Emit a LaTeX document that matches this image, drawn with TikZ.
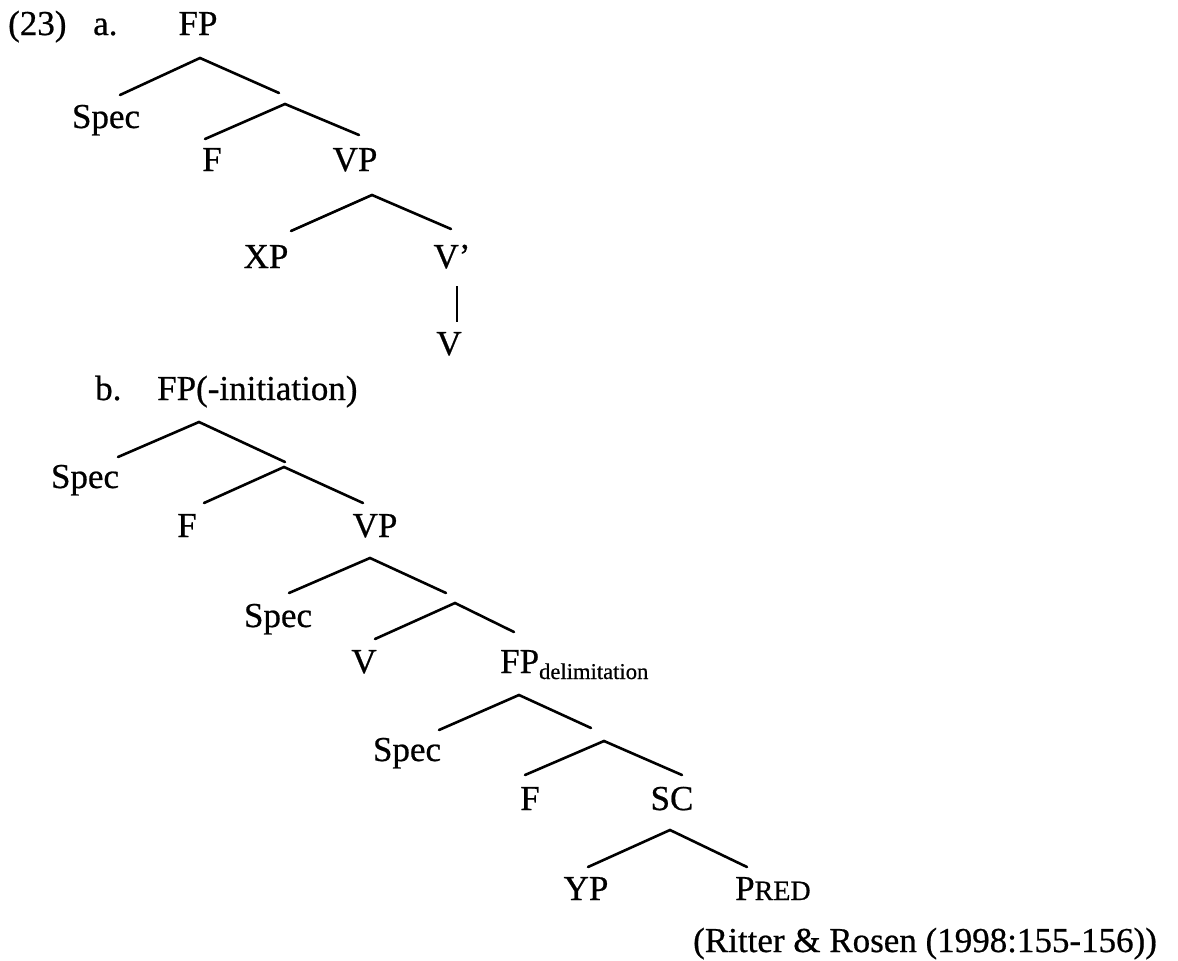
\documentclass[tikz,border=0pt]{standalone}
\usepackage{fontspec}
\setmainfont[FakeBold=0.6]{Liberation Serif}
\begin{document}
\begin{tikzpicture}[x=1pt,y=-1pt,
  lbl/.style={font=\fontsize{35}{42}\selectfont, inner sep=0pt, anchor=base},
  lblw/.style={lbl, anchor=base west},
  branch/.style={line width=2.6pt, line cap=round, line join=miter}]
\useasboundingbox[fill=white] (0,0) rectangle (1178,961);

% ---------- (23a) ----------
\node[lblw] (num)   at (8,35)    {(23)};
\node[lblw] (la)    at (93,35)   {a.};
\node[lbl]  (FPa)   at (198,35)  {FP};
\node[lbl]  (SpecA) at (106,128) {Spec};
\node[lbl]  (Fa)    at (212,171) {F};
\node[lbl]  (VPa)   at (355,171) {VP};
\node[lbl]  (XPa)   at (266,268) {XP};
\node[lbl]  (Vbar)  at (452,268) {V’};
\node[lbl]  (Va)    at (449,355) {V};

% branch points of (23a)
\coordinate (a1) at (200,58);  \coordinate (a1l) at (120,95);  \coordinate (a1r) at (279,93);
\coordinate (a2) at (285,104); \coordinate (a2l) at (205,139); \coordinate (a2r) at (359,135);
\coordinate (a3) at (372,195); \coordinate (a3l) at (291,231); \coordinate (a3r) at (451,229);
\coordinate (a4t) at (457,286); \coordinate (a4b) at (457,322);

\draw[branch] (a1l) -- (a1) -- (a1r);
\draw[branch] (a2l) -- (a2) -- (a2r);
\draw[branch] (a3l) -- (a3) -- (a3r);
\draw[branch, line cap=butt] (a4t) -- (a4b);

% ---------- (23b) ----------
\node[lblw] (lb)     at (95,400)  {b.};
\node[lblw] (FPb)    at (157,400) {FP(-initiation)};
\node[lbl]  (SpecB1) at (85,488)  {Spec};
\node[lbl]  (Fb1)    at (187,537) {F};
\node[lbl]  (VPb)    at (375,537) {VP};
\node[lbl]  (SpecB2) at (278,627) {Spec};
\node[lbl]  (Vb)     at (364,673) {V};
\node[lblw] (FPd)    at (500,673) {FP\raisebox{-6pt}{\fontsize{22.6}{26}\selectfont delimitation}};
\node[lbl]  (SpecB3) at (407,761) {Spec};
\node[lbl]  (Fb2)    at (530,810) {F};
\node[lbl]  (SC)     at (672,810) {SC};
\node[lbl]  (YP)     at (586,900) {YP};
\node[lblw] (Pred)   at (735,900) {P{\fontsize{28}{32}\selectfont RED}};
\node[lblw] (cite)   at (693,952) {(Ritter \& Rosen (1998:155-156))};

% branch points of (23b)
\coordinate (b1) at (199,422); \coordinate (b1l) at (118,457); \coordinate (b1r) at (285,462);
\coordinate (b2) at (284,467); \coordinate (b2l) at (204,503); \coordinate (b2r) at (363,503);
\coordinate (b3) at (370,558); \coordinate (b3l) at (289,593); \coordinate (b3r) at (446,593);
\coordinate (b4) at (455,603); \coordinate (b4l) at (375,639); \coordinate (b4r) at (514,632);
\coordinate (b5) at (519,695); \coordinate (b5l) at (439,730); \coordinate (b5r) at (591,728);
\coordinate (b6) at (604,741); \coordinate (b6l) at (525,775); \coordinate (b6r) at (682,775);
\coordinate (b7) at (670,830); \coordinate (b7l) at (588,867); \coordinate (b7r) at (747,867);

\draw[branch] (b1l) -- (b1) -- (b1r);
\draw[branch] (b2l) -- (b2) -- (b2r);
\draw[branch] (b3l) -- (b3) -- (b3r);
\draw[branch] (b4l) -- (b4) -- (b4r);
\draw[branch] (b5l) -- (b5) -- (b5r);
\draw[branch] (b6l) -- (b6) -- (b6r);
\draw[branch] (b7l) -- (b7) -- (b7r);
\end{tikzpicture}
\end{document}
